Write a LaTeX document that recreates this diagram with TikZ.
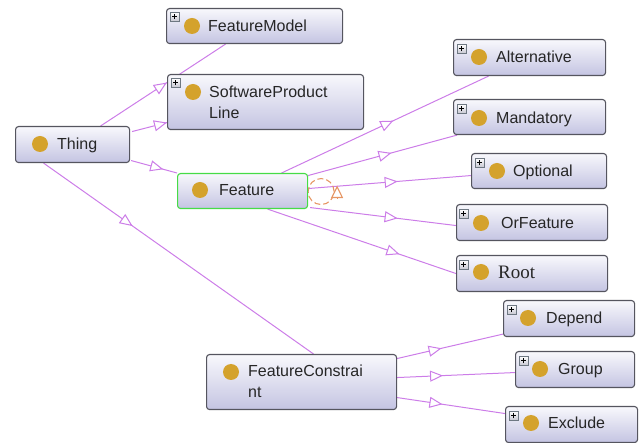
\documentclass[tikz,border=0pt]{standalone}
\usepackage{fontspec}
\setmainfont{Liberation Sans}
\newfontfamily\rootfont{Liberation Serif}
\usetikzlibrary{arrows.meta,decorations.markings}
\definecolor{boxline}{RGB}{85,85,95}
\definecolor{boxtop}{RGB}{248,248,252}
\definecolor{boxbot}{RGB}{196,196,226}
\definecolor{gold}{RGB}{212,162,44}
\definecolor{edgecol}{RGB}{204,125,232}
\definecolor{loopcol}{RGB}{230,150,100}
\definecolor{selgreen}{RGB}{70,220,70}
\definecolor{plusline}{RGB}{110,120,130}
\pgfdeclarelayer{bg}
\pgfsetlayers{bg,main}
\tikzset{
  cls/.style={draw=boxline, line width=1.1pt, rounded corners=3pt, top color=boxtop, bottom color=boxbot, inner sep=0pt, anchor=north west},
  dot/.style={circle, fill=gold, minimum size=16pt, inner sep=0pt},
  lbl/.style={font=\fontsize{16}{21}\selectfont, inner sep=0pt, anchor=base west, text=black!85},
  plusbox/.style={draw=plusline, line width=0.5pt, top color=white, bottom color=blue!10!gray!40, minimum size=9pt, inner sep=0pt, anchor=north west,
    path picture={\draw[line width=0.9pt,black] ([xshift=-2.6pt]path picture bounding box.center) -- ++(5.2pt,0) ([yshift=-2.6pt]path picture bounding box.center) -- ++(0,5.2pt);}},
  edge/.style={draw=edgecol, line width=1pt},
  midtri/.style={postaction={decorate, decoration={markings, mark=at position #1 with {\arrow[edgecol]{Triangle[length=13pt,width=11pt,fill=white,line width=1pt]}}}}},
}
\begin{document}
\begin{tikzpicture}[x=1pt,y=-1pt]
\useasboundingbox (0,0) rectangle (643,443);
% boxes
\node[cls, minimum width=176pt, minimum height=35pt] (fm) at (166,8) {};
\node[cls, minimum width=196pt, minimum height=55pt] (spl) at (167,74) {};
\node[cls, minimum width=114pt, minimum height=36pt] (thing) at (15,126) {};
\node[cls, draw=selgreen, minimum width=130pt, minimum height=35pt] (feat) at (177,173) {};
\node[cls, minimum width=152pt, minimum height=36pt] (alt) at (453,39) {};
\node[cls, minimum width=152pt, minimum height=35pt] (mand) at (453,99) {};
\node[cls, minimum width=135pt, minimum height=35pt] (opt) at (471,153) {};
\node[cls, minimum width=151pt, minimum height=36pt] (orf) at (456,204) {};
\node[cls, minimum width=151pt, minimum height=36pt] (root) at (456,255) {};
\node[cls, minimum width=190pt, minimum height=55pt] (fc) at (206,354) {};
\node[cls, minimum width=131pt, minimum height=36pt] (dep) at (503,300) {};
\node[cls, minimum width=119pt, minimum height=36pt] (grp) at (515,351) {};
\node[cls, minimum width=132pt, minimum height=36pt] (exc) at (505,406) {};
% plus icons
\node[plusbox] (fmplus) at (170,12) {};
\node[plusbox] (splplus) at (171,78) {};
\node[plusbox] (altplus) at (457,44) {};
\node[plusbox] (mandplus) at (457,104) {};
\node[plusbox] (optplus) at (475,158) {};
\node[plusbox] (orfplus) at (459,209) {};
\node[plusbox] (rootplus) at (459,260) {};
\node[plusbox] (depplus) at (507,305) {};
\node[plusbox] (grpplus) at (519,356) {};
\node[plusbox] (excplus) at (509,411) {};
% dots
\node[dot] (fmdot) at (192,26) {};
\node[dot] (spldot) at (193,92) {};
\node[dot] (thingdot) at (40,144) {};
\node[dot] (featdot) at (200,190) {};
\node[dot] (altdot) at (479,57) {};
\node[dot] (manddot) at (479,118) {};
\node[dot] (optdot) at (497,171) {};
\node[dot] (orfdot) at (481,223) {};
\node[dot] (rootdot) at (481,272) {};
\node[dot] (fcdot) at (231,372) {};
\node[dot] (depdot) at (528,318) {};
\node[dot] (grpdot) at (540,369) {};
\node[dot] (excdot) at (531,423) {};
% labels
\node[lbl] (fmtxt) at (208,31.7) {FeatureModel};
\node[lbl, align=left] (spltxt) at (209,118.7) {SoftwareProduct\\Line};
\node[lbl] (thingtxt) at (57,149.7) {Thing};
\node[lbl] (feattxt) at (219,195.7) {Feature};
\node[lbl] (alttxt) at (496,62.7) {Alternative};
\node[lbl] (mandtxt) at (496,123.7) {Mandatory};
\node[lbl] (opttxt) at (513,176.7) {Optional};
\node[lbl] (orftxt) at (501,228.7) {OrFeature};
\node[lbl, font=\rootfont\fontsize{19}{22}\selectfont] (roottxt) at (498,278.3) {Root};
\node[lbl, align=left] (fctxt) at (248,397.7) {FeatureConstrai\\nt};
\node[lbl] (deptxt) at (546,323.7) {Depend};
\node[lbl] (grptxt) at (558,374.7) {Group};
\node[lbl] (exctxt) at (548,428.7) {Exclude};
% edges
\begin{pgfonlayer}{bg}
\draw[edge, midtri=0.53] ([xshift=28pt]thing.north) -- ([xshift=-29pt]fm.south);
\draw[edge, midtri=1] ([shift={(2pt,13pt)}]thing.east) -- ([yshift=-20.5pt]spl.west);
\draw[edge, midtri=0.7] ([shift={(1pt,-16pt)}]thing.east) -- (feat.north west);
\draw[edge, midtri=0.33] ([xshift=-29pt]thing.south) -- ([xshift=12pt]fc.north);
\draw[edge, midtri=0.54] ([xshift=39pt]feat.north) -- ([xshift=-41pt]alt.south);
\draw[edge, midtri=0.56] ([yshift=15.5pt]feat.east) -- ([xshift=4pt]mand.south west);
\draw[edge, midtri=0.55] ([yshift=2.5pt]feat.east) -- ([yshift=-4.5pt]opt.west);
\draw[edge, midtri=0.6] ([shift={(2pt,-16.5pt)}]feat.east) -- ([yshift=-3pt]orf.west);
\draw[edge, midtri=0.7] ([xshift=25pt]feat.south) -- (root.west);
\draw[edge, midtri=0.42] ([yshift=23.5pt]fc.east) -- ([yshift=3pt]dep.south west);
\draw[edge, midtri=0.39] ([yshift=4.5pt]fc.east) -- ([yshift=-3pt]grp.west);
\draw[edge, midtri=0.42] ([yshift=-15.5pt]fc.east) -- ([yshift=11pt]exc.west);
% self loop
\coordinate (loopc) at ([xshift=13pt,yshift=-0.5pt]feat.east);
\draw[loopcol, line width=1.1pt, dash pattern=on 6pt off 3pt] (loopc) circle[radius=13pt];
\end{pgfonlayer}
\coordinate (looptail) at ([shift={(29pt,-7pt)}]feat.east);
\coordinate (loophead) at ([shift={(29pt,5.5pt)}]feat.east);
\draw[loopcol, line width=1.1pt, -{Triangle[length=12.5pt,width=12pt,fill=white,line width=1.1pt]}] (looptail) -- (loophead);
\end{tikzpicture}
\end{document}
